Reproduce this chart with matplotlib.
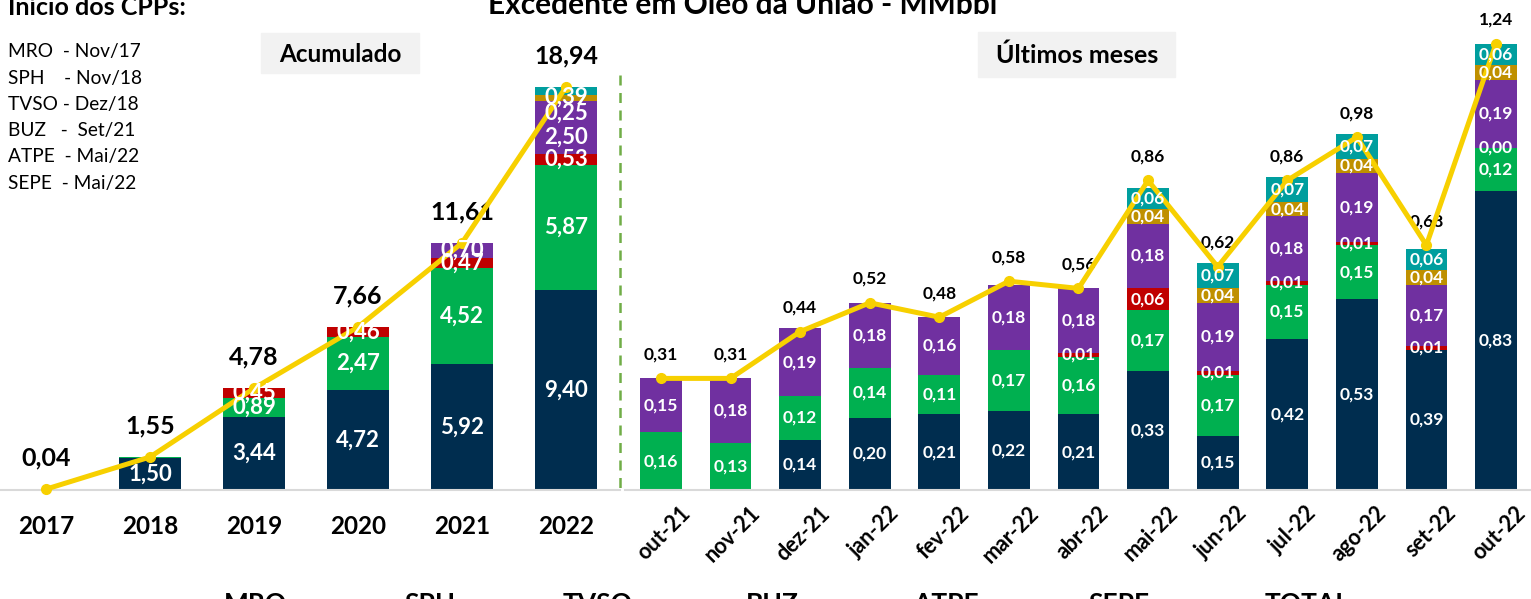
import numpy as np
import matplotlib
matplotlib.use("Agg")
import matplotlib.pyplot as plt
from matplotlib.patches import Rectangle
from matplotlib.lines import Line2D
from matplotlib.transforms import ScaledTranslation

plt.rcParams["font.family"] = ["Lato", "DejaVu Sans"]

nan = np.nan

colors = {
	"MRO": "#002D4F",
	"SPH": "#00B050",
	"TVSO": "#C00000",
	"BUZ": "#7030A0",
	"ATPE": "#BF9000",
	"SEPE": "#009E9E",
	"TOTAL": "#F7D000",
}

years = ["2017", "2018", "2019", "2020", "2021", "2022"]
year_mro = [0.04, 1.50, 3.44, 4.72, 5.92, 9.40]
year_sph = [nan, 0.03, 0.89, 2.47, 4.52, 5.87]
year_tvso = [nan, 0.02, 0.45, 0.46, 0.47, 0.53]
year_buz = [nan, nan, nan, nan, 0.70, 2.50]
year_atpe = [nan, nan, nan, nan, nan, 0.25]
year_sepe = [nan, nan, nan, nan, nan, 0.39]
year_total = [0.04, 1.55, 4.78, 7.66, 11.61, 18.94]

months = ["out-21", "nov-21", "dez-21", "jan-22", "fev-22", "mar-22", "abr-22",
	"mai-22", "jun-22", "jul-22", "ago-22", "set-22", "out-22"]
month_mro = [nan, nan, 0.14, 0.20, 0.21, 0.22, 0.21, 0.33, 0.15, 0.42, 0.53, 0.39, 0.83]
month_sph = [0.16, 0.13, 0.12, 0.14, 0.11, 0.17, 0.16, 0.17, 0.17, 0.15, 0.15, nan, 0.12]
month_tvso = [nan, nan, nan, nan, nan, nan, 0.01, 0.06, 0.01, 0.01, 0.01, 0.01, 0.00]
month_buz = [0.15, 0.18, 0.19, 0.18, 0.16, 0.18, 0.18, 0.18, 0.19, 0.18, 0.19, 0.17, 0.19]
month_atpe = [nan, nan, nan, nan, nan, nan, nan, 0.04, 0.04, 0.04, 0.04, 0.04, 0.04]
month_sepe = [nan, nan, nan, nan, nan, nan, nan, 0.06, 0.07, 0.07, 0.07, 0.06, 0.06]
month_total = [0.31, 0.31, 0.44, 0.52, 0.48, 0.58, 0.56, 0.86, 0.62, 0.86, 0.98, 0.68, 1.24]

cpp_start = ["MRO  - Nov/17", "SPH    - Nov/18", "TVSO - Dez/18",
	"BUZ   -  Set/21", "ATPE  - Mai/22", "SEPE  - Mai/22"]
legend_names = ["MRO", "SPH", "TVSO", "BUZ", "ATPE", "SEPE", "TOTAL"]

W, H = 1531, 599


def fmt(v):
	return f"{v:.2f}".replace(".", ",")


def draw_stack(ax, stacks, width, min_label, fontsize, offsets=None):
	offsets = offsets or {}
	x = np.arange(len(stacks[0][1]))
	bottom = np.zeros(len(x))
	for name, vals in stacks:
		v = np.nan_to_num(np.array(vals, dtype=float))
		ax.bar(x, v, width, bottom=bottom, color=colors[name], linewidth=0, zorder=2)
		for i, val in enumerate(vals):
			if np.isnan(val) or val < min_label:
				continue
			ax.annotate(fmt(val), (i, bottom[i] + val / 2), xytext=(0, offsets.get((i, name), 0)),
				textcoords="offset pixels", ha="center", va="center", color="white",
				fontsize=fontsize, fontweight="bold", zorder=6)
		bottom += v


def style_axis(ax):
	for side in ["top", "left", "right"]:
		ax.spines[side].set_visible(False)
	ax.spines["bottom"].set_color("#D9D9D9")
	ax.spines["bottom"].set_linewidth(1.5)
	ax.set_yticks([])
	ax.tick_params(axis="x", length=0)


fig = plt.figure(figsize=(W / 100, H / 100), dpi=100)

# cumulative panel
ax1 = fig.add_axes([0, 109 / H, 620 / W, 490 / H])
ax1.set_xlim(-46 / 104, (620 - 46) / 104)
ax1.set_ylim(0, 490 / 21.28)
draw_stack(ax1, [("MRO", year_mro), ("SPH", year_sph), ("TVSO", year_tvso),
	("BUZ", year_buz), ("ATPE", year_atpe), ("SEPE", year_sepe)],
	0.59, 0.1, 16, offsets={(5, "SEPE"): -6, (5, "ATPE"): -15, (5, "BUZ"): -10})
ax1.plot(range(len(years)), year_total, color=colors["TOTAL"], lw=3.6, marker="o",
	ms=7, zorder=5, clip_on=False)
for i, t in enumerate(year_total):
	ax1.annotate(fmt(t), (i, t), xytext=(0, 31), textcoords="offset pixels", ha="center",
		va="center", fontsize=18, fontweight="bold", color="black")
style_axis(ax1)
ax1.set_xticks(range(len(years)))
ax1.set_xticklabels(years, fontsize=17.5, fontweight="bold")
ax1.tick_params(axis="x", pad=18)

# monthly panel
ax2 = fig.add_axes([625 / W, 109 / H, 906 / W, 490 / H])
ax2.set_xlim(-(661 - 625) / 69.58, (1531 - 661) / 69.58)
ax2.set_ylim(0, 490 / 360)
draw_stack(ax2, [("MRO", month_mro), ("SPH", month_sph), ("TVSO", month_tvso),
	("BUZ", month_buz), ("ATPE", month_atpe), ("SEPE", month_sepe)],
	0.6, 0.0, 12.5)
ax2.plot(range(len(months)), month_total, color=colors["TOTAL"], lw=3.6, marker="o",
	ms=7, zorder=5, clip_on=False)
for i, t in enumerate(month_total):
	ax2.annotate(fmt(t), (i, t), xytext=(0, 24), textcoords="offset pixels", ha="center",
		va="center", fontsize=12.5, fontweight="bold", color="black")
style_axis(ax2)
ax2.set_xticks(range(len(months)))
ax2.set_xticklabels(months, fontsize=15.5, fontweight="bold", rotation=45, ha="right",
	va="top", rotation_mode="anchor")
ax2.tick_params(axis="x", pad=9)
shift = ScaledTranslation(19 / 100, 0, fig.dpi_scale_trans)
for lbl in ax2.get_xticklabels():
	lbl.set_transform(lbl.get_transform() + shift)

# separator
fig.add_artist(Line2D([620 / W, 620 / W], [1 - 75 / H, 1 - 490 / H], color="#70AD47",
	lw=1.8, ls=(0, (4, 3))))

# section boxes
fig.patches.append(Rectangle((261 / W, 1 - 73 / H), 158 / W, 40 / H,
	transform=fig.transFigure, color="#F2F2F2", zorder=0))
fig.text(340 / W, 1 - 54 / H, "Acumulado", ha="center", va="center", fontsize=17.5,
	fontweight="bold")
fig.patches.append(Rectangle((978 / W, 1 - 77 / H), 197 / W, 45 / H,
	transform=fig.transFigure, color="#F2F2F2", zorder=0))
fig.text(1077 / W, 1 - 55 / H, "Últimos meses", ha="center", va="center", fontsize=18,
	fontweight="bold")

# titles (cut at the top edge)
fig.text(743 / W, 1 - 14 / H, "Excedente em Óleo da União - MMbbl", ha="center",
	va="baseline", fontsize=21.5, fontweight="bold")
fig.text(8 / W, 1 - 15 / H, "Início dos CPPs:", ha="left", va="baseline", fontsize=18,
	fontweight="bold")
for k, line in enumerate(cpp_start):
	fig.text(8 / W, 1 - (52 + 26.2 * k) / H, line, ha="left", va="center", fontsize=13.8)

# legend names (cut at the bottom edge)
legend_x = [255, 430, 598, 772, 946, 1119, 1307]
for name, xp in zip(legend_names, legend_x):
	fig.text(xp / W, 7 / H, name, ha="center", va="top", fontsize=19, fontweight="bold")

fig.savefig("out.png", dpi=100)
